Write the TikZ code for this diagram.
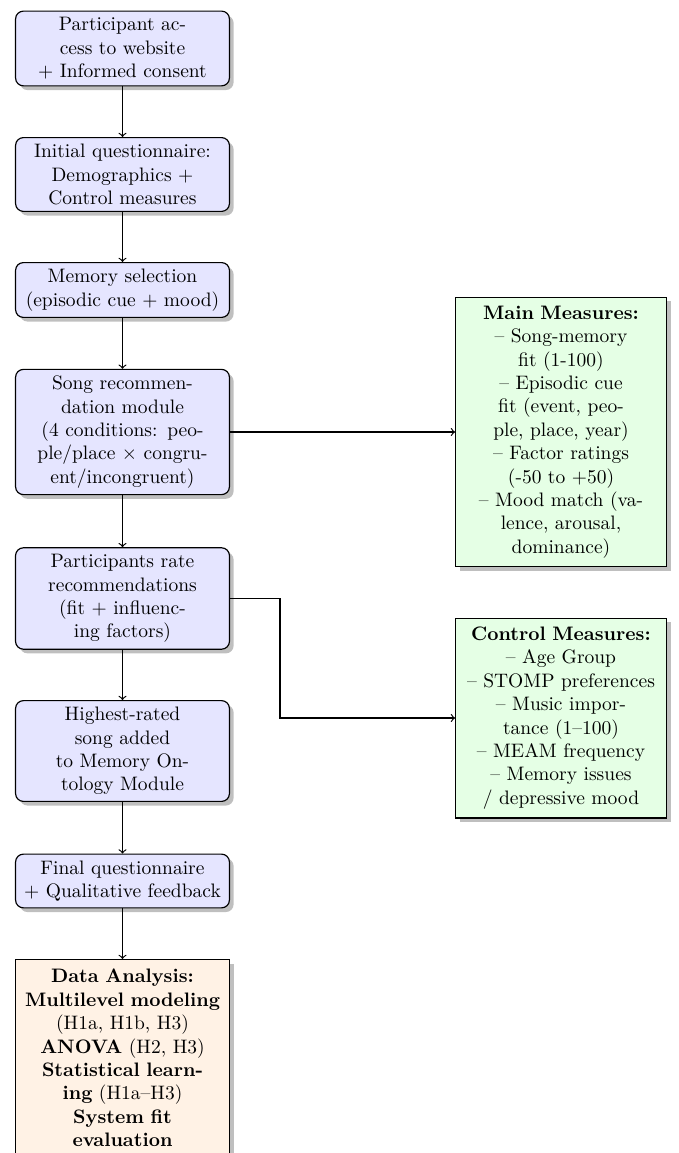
\documentclass[tikz,border=0pt]{standalone}
\usetikzlibrary{shadows}
\begin{document}
\begin{tikzpicture}[x=0.5128pt,y=-0.5128pt,
  stage/.style={draw=black, semithick, rounded corners=4pt, fill=blue!10,
    text width=103pt, align=center, drop shadow},
  measure/.style={draw=black, semithick, fill=green!10, text width=102pt,
    inner xsep=3pt, inner ysep=4.5pt, align=center, drop shadow},
  analysis/.style={draw=black, semithick, fill=orange!10, text width=103pt,
    inner ysep=5pt, align=center, drop shadow},
  flow/.style={->, semithick}]
\useasboundingbox (0,0) rectangle (678,1153);
\clip (0,0) rectangle (678,1153);

% main pipeline
\node[stage] (access) at (122.5,48.5) {Participant ac-\\cess to website\\$+$ Informed consent};
\node[stage] (initq) at (122.5,174.5) {Initial questionnaire:\\Demographics $+$\\Control measures};
\node[stage] (memsel) at (122.5,290) {Memory selection\\(episodic cue $+$ mood)};
\node[stage] (recmod) at (122.5,432) {Song recommen-\\dation module\\(4 conditions: peo-\\ple/place $\times$ congru-\\ent/incongruent)};
\node[stage] (rate) at (122.5,598.5) {Participants rate\\recommendations\\(fit $+$ influenc-\\ing factors)};
\node[stage] (onto) at (122.5,751) {Highest-rated\\song added\\to Memory On-\\tology Module};
\node[stage] (finalq) at (122.5,881) {Final questionnaire\\$+$ Qualitative feedback};
\node[analysis, anchor=north] (analysis) at (122.5,959) {\textbf{Data Analysis:}\\\textbf{Multilevel modeling}\\(H1a, H1b, H3)\\\textbf{ANOVA} (H2, H3)\\\textbf{Statistical learn-}\\\textbf{ing} (H1a--H3)\\\textbf{System fit}\\\textbf{evaluation}};

% measures
\node[measure] (mainm) at (561,432) {\textbf{Main Measures:}\\-- Song-memory\\fit (1-100)\\-- Episodic cue\\fit (event, peo-\\ple, place, year)\\-- Factor ratings\\(-50 to $+$50)\\-- Mood match (va-\\lence, arousal,\\dominance)};
\node[measure] (ctrlm) at (561,718) {\textbf{Control Measures:}\\-- Age Group\\-- STOMP preferences\\-- Music impor-\\tance (1--100)\\-- MEAM frequency\\-- Memory issues\\/ depressive mood};

% connectors
\draw[flow] (access) -- (initq);
\draw[flow] (initq) -- (memsel);
\draw[flow] (memsel) -- (recmod);
\draw[flow] (recmod) -- (rate);
\draw[flow] (rate) -- (onto);
\draw[flow] (onto) -- (finalq);
\draw[flow] (finalq) -- (analysis);
\draw[flow] (recmod.east) -- (mainm.west);
\draw[flow] (rate.east) -- ++(50,0) |- (ctrlm.west);
\end{tikzpicture}
\end{document}
